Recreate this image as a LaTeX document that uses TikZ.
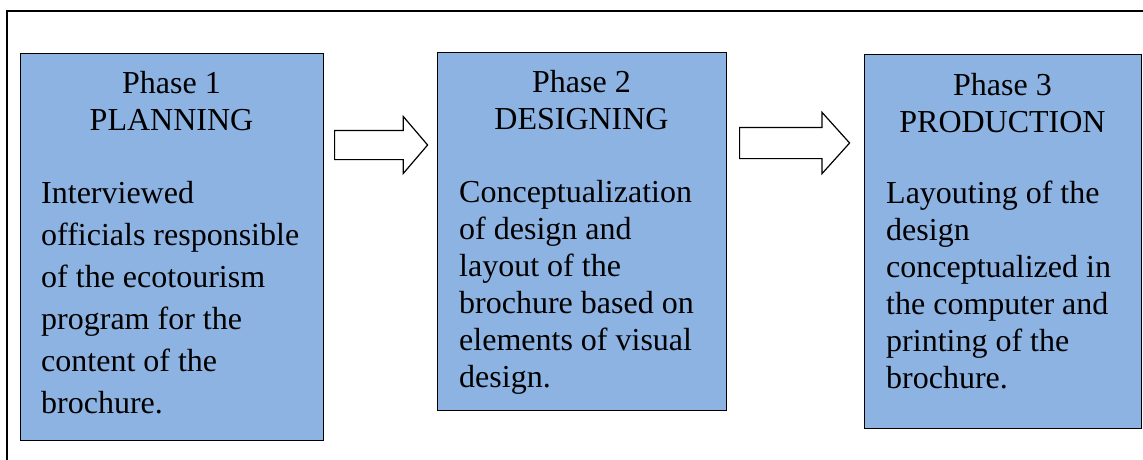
\documentclass[tikz,border=0pt]{standalone}
\usepackage{fontspec}
\setmainfont{Liberation Serif}
\usetikzlibrary{shapes.arrows}
\definecolor{phaseblue}{HTML}{8DB3E2}
\tikzset{
  phasebox/.style={draw=black,line width=1.4pt,fill=phaseblue,inner sep=0pt,anchor=north west},
  headtext/.style={align=center,inner sep=0pt,anchor=north,font=\fontsize{32}{37}\selectfont},
  bodytext/.style={align=left,inner sep=0pt,anchor=north west,font=\fontsize{32}{#1}\selectfont},
  blockarrow/.style={single arrow,draw=black,line width=1.2pt,fill=white,
    inner xsep=0pt,inner ysep=14pt,single arrow head extend=14pt,anchor=tail},
}
\begin{document}
\begin{tikzpicture}[x=1pt,y=-1pt]
  \useasboundingbox (0,0) rectangle (1143,460);
  \draw[line width=1.2pt] (7,460) -- (7,11) -- (1143,11);
  % the three phases
  \node[phasebox,minimum width=303pt,minimum height=387pt] (planbox) at (20,53) {};
  \node[phasebox,minimum width=289pt,minimum height=358pt] (designbox) at (437,52) {};
  \node[phasebox,minimum width=277pt,minimum height=374pt] (prodbox) at (864,54) {};
  \node[headtext] (planhead) at (171.5,67) {\strut Phase 1\\PLANNING};
  \node[headtext] (designhead) at (581.5,66) {\strut Phase 2\\DESIGNING};
  \node[headtext] (prodhead) at (1002.5,69) {\strut Phase 3\\PRODUCTION};
  \node[bodytext=42] (plantext) at (41,173.6) {\strut Interviewed\\officials responsible\\of the ecotourism\\program for the\\content of the\\brochure.};
  \node[bodytext=37] (designtext) at (459,176) {\strut Conceptualization\\of design and\\layout of the\\brochure based on\\elements of visual\\design.};
  \node[bodytext=37] (prodtext) at (886,177) {\strut Layouting of the\\design\\conceptualized in\\the computer and\\printing of the\\brochure.};
  % arrows between them
  \node[blockarrow,minimum height=93pt,single arrow tip angle=99] (planarrow) at (334,145) {};
  \node[blockarrow,minimum height=110pt,inner ysep=15pt,single arrow head extend=15pt,single arrow tip angle=96] (designarrow) at (739,143) {};
\end{tikzpicture}
\end{document}
